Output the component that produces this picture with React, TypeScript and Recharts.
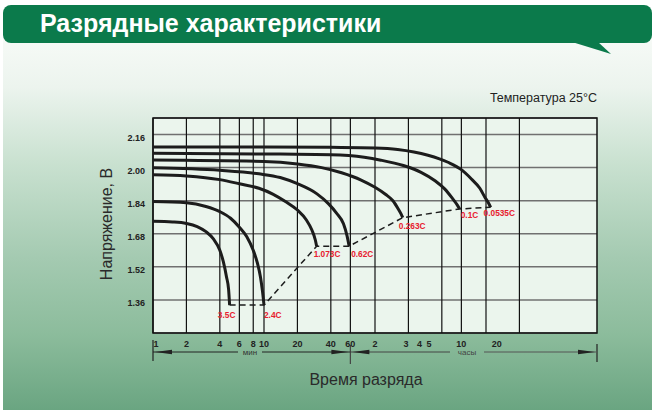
import React from "react";
import {
  LineChart,
  Line,
  XAxis,
  YAxis,
  CartesianGrid,
  ReferenceArea,
  LabelList,
} from "recharts";

// ---- data (time in minutes, voltage in volts) ----
const gridTimes = [1, 2, 4, 6, 8, 10, 20, 40, 60, 100, 200, 400, 600, 1000, 2000];
const tickTimes = [1, 2, 4, 6, 8, 10, 20, 40, 60, 100, 190, 252, 306, 600, 1250];
const tickLabels = ["1", "2", "4", "6", "8", "10", "20", "40", "60", "2", "3", "4", "5", "10", "20"];
const voltTicks = [1.36, 1.52, 1.68, 1.84, 2.0, 2.16];

const t35 = [1, 1.5, 2, 2.5, 3, 3.5, 4, 4.3, 4.6, 4.8, 4.9];
const v35 = [1.74, 1.737, 1.73, 1.715, 1.69, 1.655, 1.6, 1.545, 1.47, 1.41, 1.335];

const t24 = [1, 2, 3, 4, 5, 6, 7, 8, 8.7, 9.3, 9.7, 10];
const v24 = [1.836, 1.83, 1.812, 1.787, 1.755, 1.712, 1.666, 1.6, 1.54, 1.47, 1.4, 1.335];

const t1073 = [1, 2, 4, 6, 9, 12, 16, 20, 24, 27, 29, 29.8];
const v1073 = [1.966, 1.96, 1.942, 1.922, 1.9, 1.872, 1.832, 1.795, 1.748, 1.698, 1.65, 1.62];

const t062 = [1, 4, 9, 14, 20, 30, 38, 45, 52, 56, 58.5];
const v062 = [1.999, 1.987, 1.97, 1.952, 1.922, 1.873, 1.826, 1.78, 1.728, 1.67, 1.62];

const t0263 = [1, 10, 20, 33, 50, 75, 100, 125, 145, 162, 172, 178];
const v0263 = [2.037, 2.03, 2.018, 2.0, 1.975, 1.94, 1.905, 1.87, 1.84, 1.8, 1.775, 1.758];

const t01 = [1, 10, 40, 80, 113, 180, 260, 350, 424, 500, 550, 580];
const v01 = [2.069, 2.066, 2.062, 2.05, 2.036, 2.01, 1.977, 1.935, 1.897, 1.85, 1.82, 1.8];

const t00535 = [1, 10, 40, 100, 160, 300, 454, 600, 739, 880, 977, 1050, 1100];
const v00535 = [2.1, 2.1, 2.098, 2.095, 2.088, 2.06, 2.026, 1.99, 1.945, 1.9, 1.857, 1.83, 1.808];

const endTimes = [4.9, 10, 29.8, 58.5, 178, 580, 1100];
const endVolts = [1.335, 1.335, 1.62, 1.62, 1.758, 1.8, 1.808];
const rateLabels = ["3.5C", "2.4C", "1.073C", "0.62C", "0.263C", "0.1C", "0.0535C"];

const zip = (ts: number[], vs: number[]) => ts.map((t, i) => ({ t, v: vs[i] }));
const curves = [
  zip(t35, v35),
  zip(t24, v24),
  zip(t1073, v1073),
  zip(t062, v062),
  zip(t0263, v0263),
  zip(t01, v01),
  zip(t00535, v00535),
];
const endData = endTimes.map((t, i) => ({ t, v: endVolts[i], label: rateLabels[i] }));

// ---- layout ----
const W = 655;
const H = 417;
const PL = 153;
const PT = 118;
const PW = 444;
const PH = 215;
const X_MIN = 1;
const X_MAX = 10000;
const Y_MIN = 1.2;
const Y_MAX = 2.24;
const FONT = "'Liberation Sans', Arial, Helvetica, sans-serif";
const xPix = (t: number) =>
  PL + ((Math.log10(t) - Math.log10(X_MIN)) / (Math.log10(X_MAX) - Math.log10(X_MIN))) * PW;

// label placement relative to each curve end
const labelShift: Record<string, [number, number, string]> = {
  "3.5C": [-3, 13, "middle"],
  "2.4C": [0, 13, "start"],
  "1.073C": [-3, 11, "start"],
  "0.62C": [2, 11, "start"],
  "0.263C": [-4, 11, "start"],
  "0.1C": [1, 9, "start"],
  "0.0535C": [-7, 9, "start"],
};

const XTick = (props: any) => {
  const { x, y, payload, index } = props;
  const label = tickLabels[index] ?? String(payload.value);
  return (
    <text
      x={x + (index === 0 ? 3 : 0)}
      y={y + 12}
      textAnchor="middle"
      fontFamily={FONT}
      fontWeight="bold"
      fontSize={9}
      fill="#222"
    >
      {label}
    </text>
  );
};

const YTick = (props: any) => {
  const { y, payload } = props;
  return (
    <text x={PL - 8} y={y + 6} textAnchor="end" fontFamily={FONT} fontWeight="bold" fontSize={9} fill="#222">
      {Number(payload.value).toFixed(2)}
    </text>
  );
};

const RateLabel = (props: any) => {
  const { x, y, value } = props;
  const s = labelShift[value] || [0, 10, "start"];
  return (
    <text
      x={x + s[0]}
      y={y + s[1]}
      textAnchor={s[2] as any}
      fontFamily={FONT}
      fontWeight="bold"
      fontSize={8.3}
      fill="#e8202e"
    >
      {value}
    </text>
  );
};

const Arrow = ({ tip, dir, y }: { tip: number; dir: number; y: number }) => (
  <polygon points={`${tip},${y} ${tip - dir * 17},${y - 2.2} ${tip - dir * 17},${y + 2.2}`} fill="#222" />
);

const Background = () => {
  const x60 = xPix(60);
  const xr = PL + PW;
  const ay = 352;
  return (
    <svg width={W} height={H} style={{ position: "absolute", left: 0, top: 0 }}>
      <defs>
        <linearGradient id="panel" x1="0" y1="0" x2="0" y2="1">
          <stop offset="0" stopColor="#f8fbf8" />
          <stop offset="0.15" stopColor="#ecf4ee" />
          <stop offset="0.35" stopColor="#c9e1d0" />
          <stop offset="0.6" stopColor="#a4cab1" />
          <stop offset="0.8" stopColor="#8cbc9c" />
          <stop offset="1" stopColor="#6aa581" />
        </linearGradient>
      </defs>
      <rect x={0} y={0} width={W} height={H} fill="#ffffff" />
      <rect x={3} y={30} width={649} height={380} fill="url(#panel)" />
      <rect x={3} y={5} width={649} height={38} rx={8} fill="#0b7a4b" />
      <polygon points="572,42 611,54 598,42" fill="#0b7a4b" />
      <text x={40} y={32} fontFamily={FONT} fontWeight="bold" fontSize={25} fill="#ffffff">
        Разрядные характеристики
      </text>
      <text x={597} y={102} textAnchor="end" fontFamily={FONT} fontSize={12.5} fill="#222">
        Температура 25°C
      </text>
      <text
        x={112}
        y={224}
        transform="rotate(-90 112 224)"
        textAnchor="middle"
        fontFamily={FONT}
        fontSize={16}
        fill="#2a2a2a"
      >
        Напряжение, В
      </text>
      <text x={366} y={385} textAnchor="middle" fontFamily={FONT} fontSize={16} fill="#2a2a2a">
        Время разряда
      </text>
      {/* min / hours arrows */}
      <line x1={PL} y1={340} x2={PL} y2={361} stroke="#222" strokeWidth={1.2} />
      <line x1={xr} y1={344} x2={xr} y2={362} stroke="#222" strokeWidth={1.2} />
      <line x1={x60} y1={345} x2={x60} y2={364} stroke="#444" strokeWidth={1.2} />
      <line x1={PL} y1={ay} x2={238} y2={ay} stroke="#222" strokeWidth={1} />
      <line x1={262} y1={ay} x2={x60} y2={ay} stroke="#222" strokeWidth={1} />
      <line x1={x60} y1={ay} x2={450} y2={ay} stroke="#444" strokeWidth={1} />
      <line x1={484} y1={ay} x2={xr} y2={ay} stroke="#555" strokeWidth={1} />
      <Arrow tip={PL + 2} dir={-1} y={ay} />
      <Arrow tip={x60 - 2} dir={1} y={ay} />
      <Arrow tip={x60 + 2} dir={-1} y={ay} />
      <Arrow tip={xr - 2} dir={1} y={ay} />
      <text x={250} y={355} textAnchor="middle" fontFamily={FONT} fontSize={8} fill="#333">
        мин
      </text>
      <text x={467} y={355} textAnchor="middle" fontFamily={FONT} fontSize={8} fill="#444">
        часы
      </text>
    </svg>
  );
};

export default function App() {
  const yW = 40;
  const xH = 30;
  return (
    <div style={{ position: "absolute", left: 0, top: 0, width: W, height: H, overflow: "hidden" }}>
      <Background />
      <div style={{ position: "absolute", left: 0, top: 0 }}>
        <LineChart
          width={W}
          height={H}
          margin={{ top: PT, left: PL - yW, right: W - PL - PW, bottom: H - PT - PH - xH }}
        >
          <CartesianGrid
            horizontal={true}
            vertical={false}
            fill="#ebf5ed"
            fillOpacity={1}
            stroke="#707070"
            strokeWidth={1.5}
          />
          <CartesianGrid
            horizontal={false}
            vertical={true}
            verticalCoordinatesGenerator={() => gridTimes.map((t) => xPix(t))}
            stroke="#111"
            strokeWidth={1.2}
          />
          <XAxis
            dataKey="t"
            type="number"
            scale="log"
            domain={[X_MIN, X_MAX]}
            allowDataOverflow
            ticks={tickTimes}
            interval={0}
            height={xH}
            axisLine={false}
            tickLine={false}
            tickSize={0}
            tick={<XTick />}
          />
          <YAxis
            type="number"
            domain={[Y_MIN, Y_MAX]}
            allowDataOverflow
            ticks={voltTicks}
            interval={0}
            width={yW}
            axisLine={false}
            tickLine={false}
            tickSize={0}
            tick={<YTick />}
          />
          <ReferenceArea x1={X_MIN} x2={X_MAX} y1={Y_MIN} y2={Y_MAX} fill="none" stroke="#111" strokeWidth={1.5} />
          {curves.map((d, i) => (
            <Line
              key={i}
              data={d}
              dataKey="v"
              type="monotone"
              stroke="#1c1c1c"
              strokeWidth={3}
              dot={false}
              activeDot={false}
              isAnimationActive={false}
            />
          ))}
          <Line
            data={endData}
            dataKey="v"
            type="linear"
            stroke="#1c1c1c"
            strokeWidth={1.5}
            strokeDasharray="6 4"
            dot={false}
            activeDot={false}
            isAnimationActive={false}
          >
            <LabelList dataKey="label" content={<RateLabel />} />
          </Line>
        </LineChart>
      </div>
    </div>
  );
}
